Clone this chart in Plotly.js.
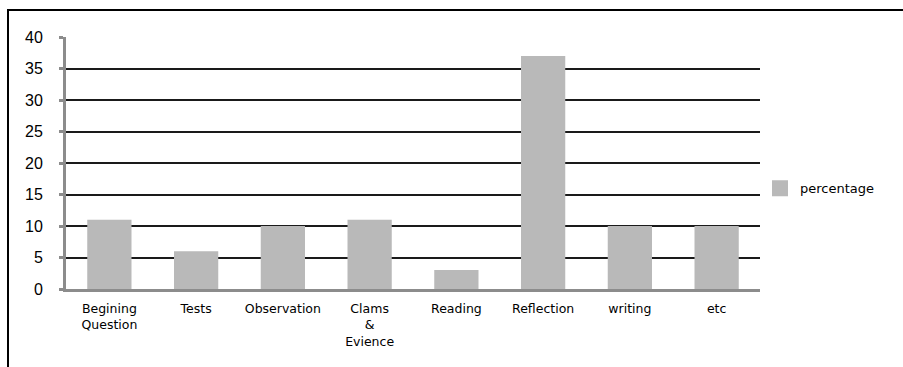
<!DOCTYPE html>
<html>
<head>
<meta charset="utf-8">
<script src="https://cdn.plot.ly/plotly-3.0.1.min.js"></script>
<style>
  html, body { margin: 0; padding: 0; background: #fff; }
  #wrap { position: relative; width: 903px; height: 367px; overflow: hidden; }
  #chart { position: absolute; left: 0; top: 0; width: 903px; height: 367px; }
  #frame { position: absolute; left: 7px; top: 9px; width: 910px; height: 380px;
           border-left: 2px solid #000; border-top: 2px solid #000; pointer-events: none; }
</style>
</head>
<body>
<div id="wrap"><div id="chart"></div><div id="frame"></div></div>
<script>
const categories = ["Begining<br>Question", "Tests", "Observation", "Clams<br>&<br>Evience",
                    "Reading", "Reflection", "writing", "etc"];
const percentage = [11, 6, 10, 11, 3, 37, 10, 10];
const yTicks = [0, 5, 10, 15, 20, 25, 30, 35, 40];
const seriesName = "percentage";

const barColor = "#b9b9b9";
const labelFont = "DejaVu Sans, Noto Sans, sans-serif";

const traces = [
  {
    type: "bar",
    x: categories,
    y: percentage,
    marker: { color: barColor, line: { width: 0 } },
    showlegend: false,
    hoverinfo: "x+y"
  },
  {
    type: "scatter",
    mode: "markers",
    x: [null],
    y: [null],
    name: seriesName,
    marker: { symbol: "square", size: 20, color: barColor },
    showlegend: true
  }
];

const layout = {
  width: 903,
  height: 367,
  margin: { l: 66, r: 143, t: 37, b: 78, pad: 0 },
  paper_bgcolor: "#ffffff",
  plot_bgcolor: "#ffffff",
  bargap: 0.49,
  showlegend: true,
  legend: {
    x: 1.0, xanchor: "left",
    y: 0.40, yanchor: "middle",
    font: { family: labelFont, size: 13, color: "#000" },
    itemsizing: "trace",
    bgcolor: "rgba(0,0,0,0)"
  },
  xaxis: {
    type: "category",
    showgrid: false,
    zeroline: false,
    showline: true,
    linecolor: "#8c8c8c",
    linewidth: 3,
    ticks: "",
    tickfont: { family: labelFont, size: 12.5, color: "#000" },
    ticklabelstandoff: 6,
    fixedrange: true
  },
  yaxis: {
    range: [0, 40],
    tickvals: yTicks,
    ticktext: yTicks.map(String),
    showgrid: true,
    gridcolor: "#1a1a1a",
    gridwidth: 2,
    zeroline: false,
    showline: true,
    linecolor: "#8c8c8c",
    linewidth: 3,
    ticks: "outside",
    ticklen: 4,
    tickwidth: 3,
    tickcolor: "#8c8c8c",
    tickfont: { family: "Liberation Sans, Arial, sans-serif", size: 16, color: "#000" },
    ticklabelstandoff: 13,
    fixedrange: true
  }
};

Plotly.newPlot("chart", traces, layout, { displayModeBar: false, staticPlot: true });
</script>
</body>
</html>
